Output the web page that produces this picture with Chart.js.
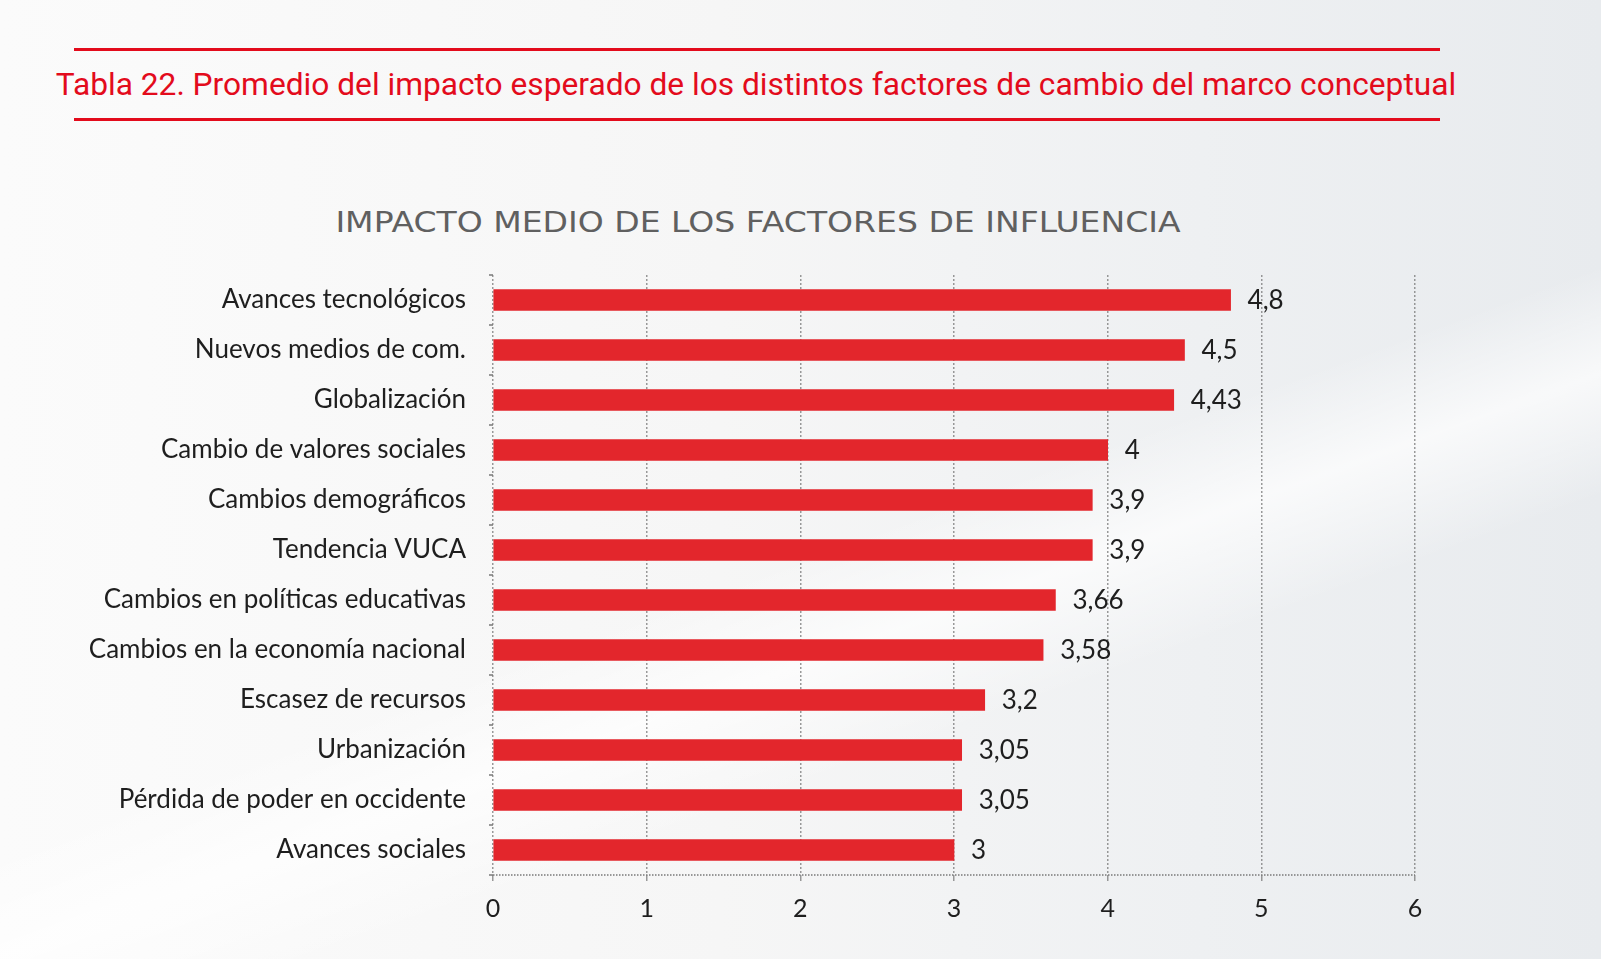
<!DOCTYPE html>
<html>
<head>
<meta charset="utf-8">
<script src="https://cdn.jsdelivr.net/npm/chart.js@4"></script>
<style>
  html, body { margin: 0; padding: 0; }
  body {
    width: 1601px; height: 959px; position: relative; overflow: hidden;
    background:
      linear-gradient(160deg, rgba(255,255,255,0) 55%, rgba(255,255,255,0.7) 62%, rgba(255,255,255,0) 70%),
      linear-gradient(90deg, #fbfbfb 0%, #f6f6f6 45%, #eef0f2 75%, #e8ebee 100%);
    font-family: Lato, sans-serif;
  }
  .rule { position: absolute; left: 74px; width: 1366px; height: 3px; background: #e30b1c; }
  #heading {
    position: absolute; left: 0; width: 1512px; top: 66px; text-align: center;
    color: #e30b1c; font-family: Roboto, sans-serif; font-size: 31.7px; white-space: nowrap;
  }
  #chartTitle {
    position: absolute; left: 0; width: 1516px; top: 206px; text-align: center;
    color: #606060; font-family: "DejaVu Sans", sans-serif; font-size: 28px; white-space: nowrap;
    transform: scaleX(1.18); transform-origin: 758px 0;
  }
  #chart { position: absolute; left: 0; top: 0; }
</style>
</head>
<body>
<div class="rule" style="top:48px"></div>
<div id="heading">Tabla 22. Promedio del impacto esperado de los distintos factores de cambio del marco conceptual</div>
<div class="rule" style="top:118px"></div>
<div id="chartTitle">IMPACTO MEDIO DE LOS FACTORES DE INFLUENCIA</div>
<canvas id="chart" width="1601" height="959"></canvas>
<script>
// Impacto medio de los factores de influencia

const categories = [
  "Avances tecnológicos",
  "Nuevos medios de com.",
  "Globalización",
  "Cambio de valores sociales",
  "Cambios demográficos",
  "Tendencia VUCA",
  "Cambios en políticas educativas",
  "Cambios en la economía nacional",
  "Escasez de recursos",
  "Urbanización",
  "Pérdida de poder en occidente",
  "Avances sociales"
];
const impacto = [4.8, 4.5, 4.43, 4, 3.9, 3.9, 3.66, 3.58, 3.2, 3.05, 3.05, 3];
const xTicks = [0, 1, 2, 3, 4, 5, 6];

const gridColor = "rgba(120,120,120,0.75)";

// value labels at the end of every bar, with comma decimals
const valueLabels = {
  id: "valueLabels",
  afterDatasetsDraw(chart) {
    const ctx = chart.ctx;
    const meta = chart.getDatasetMeta(0);
    ctx.save();
    ctx.font = "26px Lato, sans-serif";
    ctx.fillStyle = "#1e1e1e";
    ctx.textAlign = "left";
    ctx.textBaseline = "middle";
    meta.data.forEach((bar, i) => {
      const txt = String(impacto[i]).replace(".", ",");
      ctx.fillText(txt, bar.x + 17, bar.y + 1);
    });
    ctx.restore();
  }
};

new Chart(document.getElementById("chart"), {
  type: "bar",
  data: {
    labels: categories,
    datasets: [{
      data: impacto,
      backgroundColor: "#e3262c",
      borderWidth: 0,
      barThickness: 21
    }]
  },
  options: {
    indexAxis: "y",
    responsive: false,
    animation: false,
    layout: { padding: { top: 275, left: 0, right: 186, bottom: 22 } },
    plugins: {
      legend: { display: false },
      tooltip: { enabled: false }
    },
    scales: {
      x: {
        min: 0,
        max: 6,
        afterBuildTicks: (s) => { s.ticks = xTicks.map((v) => ({ value: v })); },
        ticks: {
          color: "#1e1e1e",
          font: { family: "Lato", size: 25 },
          padding: 13
        },
        grid: {
          color: gridColor,
          lineWidth: 1.5,
          tickLength: 6
        },
        border: { display: false, dash: [2, 2] }
      },
      y: {
        afterFit: (s) => { s.width = 493; },
        ticks: {
          color: "#1e1e1e",
          font: { family: "Lato", size: 26 },
          padding: 23
        },
        grid: {
          // only the bottom boundary line is drawn across: it is the dotted x axis
          color: (c) => (c.type === "scale" ? gridColor : "rgba(0,0,0,0)"),
          tickColor: gridColor,
          lineWidth: 2,
          tickLength: 4
        },
        border: { display: false, dash: [1.5, 1.5] }
      }
    }
  },
  plugins: [valueLabels]
});
</script>
</body>
</html>
